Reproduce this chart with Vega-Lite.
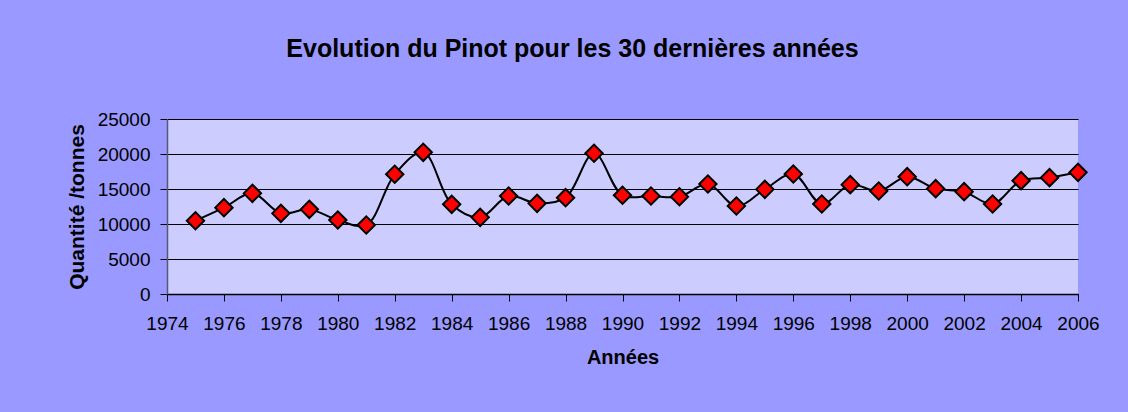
{
  "$schema": "https://vega.github.io/schema/vega-lite/v6.json",
  "autosize": {"type": "none"},
  "width": 911,
  "height": 175,
  "padding": {"left": 167, "top": 119, "right": 50, "bottom": 118},
  "background": "#9999FF",
  "title": {
    "text": "Evolution du Pinot pour les 30 dernières années",
    "font": "Liberation Sans",
    "fontSize": 25,
    "fontWeight": "bold",
    "color": "#000000",
    "anchor": "middle",
    "frame": "group",
    "dx": -50,
    "offset": 48
  },
  "config": {
    "view": {"fill": "#CCCCFF", "stroke": null},
    "font": "Liberation Sans"
  },
  "data": {
    "values": [
      {"annee": 1975, "quantite": 10470},
      {"annee": 1976, "quantite": 12330},
      {"annee": 1977, "quantite": 14380},
      {"annee": 1978, "quantite": 11520},
      {"annee": 1979, "quantite": 12090},
      {"annee": 1980, "quantite": 10570},
      {"annee": 1981, "quantite": 9860},
      {"annee": 1982, "quantite": 17100},
      {"annee": 1983, "quantite": 20240},
      {"annee": 1984, "quantite": 12810},
      {"annee": 1985, "quantite": 10950},
      {"annee": 1986, "quantite": 14000},
      {"annee": 1987, "quantite": 12950},
      {"annee": 1988, "quantite": 13760},
      {"annee": 1989, "quantite": 20100},
      {"annee": 1990, "quantite": 14100},
      {"annee": 1991, "quantite": 14000},
      {"annee": 1992, "quantite": 13900},
      {"annee": 1993, "quantite": 15710},
      {"annee": 1994, "quantite": 12570},
      {"annee": 1995, "quantite": 14950},
      {"annee": 1996, "quantite": 17140},
      {"annee": 1997, "quantite": 12860},
      {"annee": 1998, "quantite": 15620},
      {"annee": 1999, "quantite": 14710},
      {"annee": 2000, "quantite": 16760},
      {"annee": 2001, "quantite": 15050},
      {"annee": 2002, "quantite": 14620},
      {"annee": 2003, "quantite": 12860},
      {"annee": 2004, "quantite": 16190},
      {"annee": 2005, "quantite": 16620},
      {"annee": 2006, "quantite": 17380}
    ]
  },
  "encoding": {
    "x": {
      "field": "annee",
      "type": "quantitative",
      "scale": {"domain": [1974, 2006], "nice": false, "zero": false},
      "axis": {
        "title": "Années",
        "values": [1974, 1976, 1978, 1980, 1982, 1984, 1986, 1988, 1990, 1992, 1994, 1996, 1998, 2000, 2002, 2004, 2006],
        "format": "d",
        "grid": false,
        "domainColor": "#000000",
        "domainWidth": 1.5,
        "tickColor": "#000000",
        "tickSize": 7,
        "labelFontSize": 19,
        "labelColor": "#000000",
        "labelPadding": 13,
        "labelFlush": false,
        "labelOverlap": false,
        "titleFontSize": 20,
        "titleFontWeight": "bold",
        "titleColor": "#000000",
        "titlePadding": 14
      }
    },
    "y": {
      "field": "quantite",
      "type": "quantitative",
      "scale": {"domain": [0, 25000], "nice": false},
      "axis": {
        "title": "Quantité /tonnes",
        "values": [0, 5000, 10000, 15000, 20000, 25000],
        "format": "d",
        "grid": true,
        "gridColor": "#000000",
        "gridWidth": 1.2,
        "gridOpacity": 1,
        "domainColor": "#555577",
        "domainWidth": 1.5,
        "tickColor": "#000000",
        "tickSize": 7,
        "labelFontSize": 19,
        "labelColor": "#000000",
        "labelPadding": 10,
        "titleFontSize": 21,
        "titleFontWeight": "bold",
        "titleColor": "#000000",
        "titlePadding": 10
      }
    }
  },
  "layer": [
    {
      "mark": {"type": "line", "interpolate": "catmull-rom", "color": "#000000", "strokeWidth": 2}
    },
    {
      "mark": {"type": "point", "shape": "diamond", "size": 300, "filled": true, "fill": "#FF0000", "stroke": "#000000", "strokeWidth": 2, "opacity": 1}
    }
  ]
}
